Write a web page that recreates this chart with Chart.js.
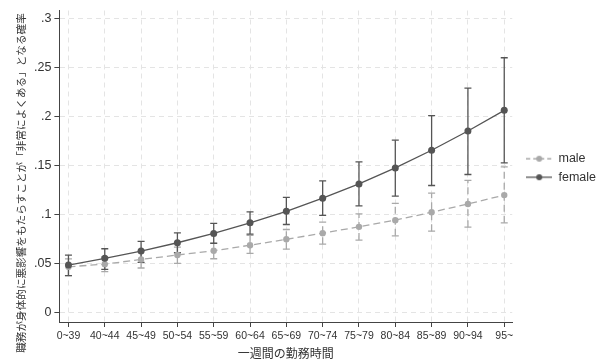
<!DOCTYPE html>
<html>
<head>
<meta charset="utf-8">
<script src="https://cdn.jsdelivr.net/npm/chart.js@4.4.0/dist/chart.umd.min.js"></script>
<style>
  html, body { margin: 0; padding: 0; background: #fff; }
  #contenedor { width: 608px; height: 361px; }
</style>
</head>
<body>
<div id="contenedor"><canvas id="grafica_lineas"></canvas></div>
<script>
var horas = ["0~39", "40~44", "45~49", "50~54", "55~59", "60~64", "65~69", "70~74", "75~79", "80~84", "85~89", "90~94", "95~"];

var male = [0.047, 0.0497, 0.0545, 0.059, 0.0633, 0.069, 0.075, 0.0813, 0.0877, 0.0945, 0.1026, 0.111, 0.120];
var maleBajo = [0.038, 0.042, 0.0458, 0.0505, 0.0552, 0.0607, 0.065, 0.070, 0.0742, 0.0786, 0.0833, 0.0874, 0.0918];
var maleAlto = [0.055, 0.057, 0.063, 0.067, 0.0714, 0.079, 0.085, 0.0925, 0.101, 0.1115, 0.122, 0.135, 0.1487];

var female = [0.0488, 0.0556, 0.063, 0.0715, 0.081, 0.0918, 0.1035, 0.1169, 0.1314, 0.1477, 0.1657, 0.1853, 0.2063];
var femaleBajo = [0.038, 0.0444, 0.0515, 0.0613, 0.0708, 0.0803, 0.0901, 0.0993, 0.109, 0.119, 0.1298, 0.141, 0.1528];
var femaleAlto = [0.059, 0.0654, 0.0729, 0.0816, 0.0912, 0.103, 0.1178, 0.1345, 0.1538, 0.176, 0.201, 0.229, 0.2599];

var ticksY = [0, 0.05, 0.1, 0.15, 0.2, 0.25, 0.3];

var tituloY = "職務が身体的に悪影響をもたらすことが「非常によくある」となる確率";
var tituloX = "一週間の勤務時間";

var colorMale = "#a9a9a9";
var colorFemale = "#555555";

function puntos(valores) {
  return valores.map(function (v, i) { return { x: i, y: v }; });
}

// muestra de leyenda: linea con punto
function muestra(color, dash) {
  var c = document.createElement("canvas");
  c.width = 26;
  c.height = 8;
  var g = c.getContext("2d");
  g.strokeStyle = color;
  g.lineWidth = 1.3;
  g.setLineDash(dash);
  g.beginPath();
  g.moveTo(0, 4);
  g.lineTo(26, 4);
  g.stroke();
  g.fillStyle = color;
  g.beginPath();
  g.arc(13, 4, 3, 0, Math.PI * 2);
  g.fill();
  return c;
}

var barrasError = {
  id: "barrasError",
  beforeDatasetsDraw: function (chart) {
    var ctx = chart.ctx;
    var xs = chart.scales.x;
    var ys = chart.scales.y;
    chart.data.datasets.forEach(function (ds) {
      ctx.save();
      ctx.strokeStyle = ds.borderColor;
      ctx.lineWidth = 1.3;
      for (var i = 0; i < ds.bajo.length; i++) {
        var x = xs.getPixelForValue(i);
        var y1 = ys.getPixelForValue(ds.bajo[i]);
        var y2 = ys.getPixelForValue(ds.alto[i]);
        ctx.setLineDash(ds.borderDash || []);
        ctx.beginPath();
        ctx.moveTo(x, y1);
        ctx.lineTo(x, y2);
        ctx.stroke();
        ctx.setLineDash([]);
        ctx.beginPath();
        ctx.moveTo(x - 3.5, y1);
        ctx.lineTo(x + 3.5, y1);
        ctx.moveTo(x - 3.5, y2);
        ctx.lineTo(x + 3.5, y2);
        ctx.stroke();
      }
      ctx.restore();
    });
  }
};

// titulo vertical del eje y, centrado como en el original
var tituloVertical = {
  id: "tituloVertical",
  afterLayout: function (chart) {
    // subir y mover la leyenda
    var lg = chart.legend;
    lg.top -= 17;
    lg.bottom -= 17;
    lg.left += 8;
    lg.right += 8;
  },
  afterDraw: function (chart) {
    var ctx = chart.ctx;
    ctx.save();
    ctx.font = "10.5px 'Noto Sans CJK JP'";
    var ancho = ctx.measureText(tituloY).width;
    var size = 10.5 * 340 / ancho;
    ctx.font = size + "px 'Noto Sans CJK JP'";
    ctx.fillStyle = "#333";
    ctx.textAlign = "center";
    ctx.textBaseline = "middle";
    ctx.translate(21, 183);
    ctx.rotate(-Math.PI / 2);
    ctx.fillText(tituloY, 0, 0);
    ctx.restore();
  }
};

var ctx = document.getElementById("grafica_lineas").getContext("2d");
var myChart = new Chart(ctx, {
  type: "line",
  data: {
    datasets: [
      {
        label: "male",
        data: puntos(male),
        bajo: maleBajo,
        alto: maleAlto,
        borderColor: colorMale,
        backgroundColor: colorMale,
        borderWidth: 1.3,
        borderDash: [7, 4],
        pointRadius: 3.2,
        pointBorderWidth: 0,
        order: 1,
        muestra: muestra(colorMale, [4, 3]),
      },
      {
        label: "female",
        data: puntos(female),
        bajo: femaleBajo,
        alto: femaleAlto,
        borderColor: colorFemale,
        backgroundColor: colorFemale,
        borderWidth: 1.3,
        pointRadius: 3.5,
        pointBorderWidth: 0,
        order: 0,
        muestra: muestra(colorFemale, []),
      },
    ],
  },
  options: {
    responsive: true,
    maintainAspectRatio: false,
    animation: false,
    layout: { padding: { left: 31, right: 10, top: 9, bottom: 0 } },
    plugins: {
      tooltip: { enabled: false },
      legend: {
        position: "right",
        labels: {
          usePointStyle: true,
          pointStyleWidth: 26,
          color: "#333",
          padding: 6,
          font: { family: "Liberation Sans", size: 12.5 },
          sort: function (a, b) { return a.datasetIndex - b.datasetIndex; },
          generateLabels: function (chart) {
            var items = Chart.defaults.plugins.legend.labels.generateLabels(chart);
            items.forEach(function (it) {
              it.pointStyle = chart.data.datasets[it.datasetIndex].muestra;
            });
            return items;
          },
        },
      },
    },
    scales: {
      x: {
        type: "linear",
        min: -0.25,
        max: 12.22,
        afterBuildTicks: function (scale) {
          scale.ticks = horas.map(function (h, i) { return { value: i }; });
        },
        ticks: {
          autoSkip: false,
          maxRotation: 0,
          color: "#333",
          padding: 3,
          font: { family: "Liberation Sans", size: 10.5 },
          callback: function (v) { return horas[v]; },
        },
        grid: { color: "#e4e4e4", lineWidth: 1, tickColor: "#444", tickLength: 5 },
        border: { color: "#444", width: 1, dash: [5, 4] },
        title: {
          display: true,
          text: tituloX,
          color: "#333",
          padding: { top: 1, bottom: 0 },
          font: { family: "Noto Sans CJK JP", size: 12 },
        },
      },
      y: {
        min: -0.0092,
        max: 0.308,
        afterBuildTicks: function (scale) {
          scale.ticks = ticksY.map(function (v) { return { value: v }; });
        },
        ticks: {
          color: "#333",
          padding: 3,
          font: { family: "Liberation Sans", size: 12.5 },
          callback: function (v) { return v === 0 ? "0" : String(v).replace("0.", "."); },
        },
        grid: { color: "#e4e4e4", lineWidth: 1, tickColor: "#444", tickLength: 5 },
        border: { color: "#444", width: 1, dash: [5, 4] },
      },
    },
  },
  plugins: [barrasError, tituloVertical],
});
</script>
</body>
</html>
